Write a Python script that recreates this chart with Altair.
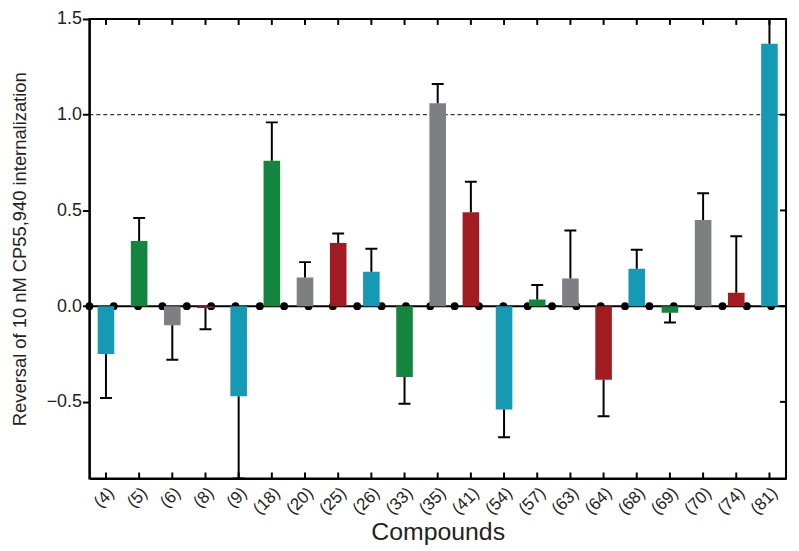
import altair as alt
import pandas as pd

compounds = ["(4)", "(5)", "(6)", "(8)", "(9)", "(18)", "(20)", "(25)", "(26)", "(33)", "(35)",
             "(41)", "(54)", "(57)", "(63)", "(64)", "(68)", "(69)", "(70)", "(74)", "(81)"]
values = [-0.25, 0.34, -0.10, -0.01, -0.47, 0.76, 0.15, 0.33, 0.18, -0.37, 1.06,
          0.49, -0.54, 0.035, 0.145, -0.385, 0.195, -0.035, 0.45, 0.07, 1.37]
errors = [0.23, 0.12, 0.18, 0.11, 0.43, 0.20, 0.08, 0.05, 0.12, 0.14, 0.10,
          0.16, 0.145, 0.075, 0.25, 0.19, 0.10, 0.05, 0.14, 0.295, 0.15]
zero_points = list(range(29))
y_ticks = [-0.5, 0.0, 0.5, 1.0, 1.5]
reference_level = [1.0]

palette = ["#1699B4", "#14853F", "#7E7F83", "#A11C20"]
bar_colors = [palette[i % 4] for i in range(len(compounds))]

df = pd.DataFrame({"compound": compounds, "value": values, "err": errors})
df["end"] = [v + (e if v >= 0 else -e) for v, e in zip(values, errors)]
dots_df = pd.DataFrame({"i": zero_points, "y": [0.0] * len(zero_points)})
yt_df = pd.DataFrame({"y": y_ticks})
ref_df = pd.DataFrame({"y": reference_level})

W, H = 702, 463
FONT = "Liberation Sans"

xscale = alt.Scale(domain=compounds, paddingInner=0.5, paddingOuter=0.25)
yscale = alt.Scale(domain=[-0.9, 1.5], nice=False, zero=False)

x_enc = alt.X("compound:N", scale=xscale, sort=compounds,
              axis=alt.Axis(title="Compounds", labelAngle=-45, ticks=False,
                            labelFontSize=17, titleFontSize=25, labelPadding=6,
                            titlePadding=3, domainColor="black", domainWidth=2,
                            labelColor="#222", titleColor="#222",
                            titleFontWeight="normal"))
y_enc = alt.Y("value:Q", scale=yscale,
              axis=alt.Axis(title="Reversal of 10 nM CP55,940 internalization",
                            values=y_ticks, format=".1f", grid=False,
                            tickSize=7, tickWidth=2, tickColor="black",
                            domainColor="black", domainWidth=2,
                            labelFontSize=18, labelPadding=1, titleFontSize=18.5,
                            titlePadding=17, labelColor="#222", titleColor="#222",
                            titleFontWeight="normal"))

base = alt.Chart(df)

ref_line = alt.Chart(ref_df).mark_rule(color="black", strokeWidth=1, strokeDash=[4, 3]).encode(
    y=alt.Y("y:Q", scale=yscale), x=alt.value(0), x2=alt.value(W)
)

zero_line = alt.Chart(dots_df).mark_rule(color="black", strokeWidth=2).encode(
    y=alt.Y("mean(y):Q", scale=yscale), x=alt.value(0), x2=alt.value(W)
)

dots = alt.Chart(dots_df).mark_circle(color="black", opacity=1, size=62).encode(
    x=alt.X("i:Q", scale=alt.Scale(domain=[0, 28.61], nice=False, zero=True), axis=None),
    y=alt.Y("y:Q", scale=yscale),
)

bars = base.mark_bar(clip=True).encode(
    x=x_enc, y=y_enc, y2=alt.datum(0),
    color=alt.Color("compound:N", scale=alt.Scale(domain=compounds, range=bar_colors), legend=None),
)

err_rules = base.mark_rule(color="black", strokeWidth=2, clip=True).encode(
    x=alt.X("compound:N", scale=xscale, sort=compounds),
    y=alt.Y("value:Q", scale=yscale), y2="end:Q",
)
caps = base.mark_tick(color="black", size=12, thickness=2, clip=True, opacity=1).encode(
    x=alt.X("compound:N", scale=xscale, sort=compounds),
    y=alt.Y("end:Q", scale=yscale),
)

bottom_ticks = base.mark_rule(color="black", strokeWidth=2).encode(
    x=alt.X("compound:N", scale=xscale, sort=compounds),
    y=alt.value(H), y2=alt.value(H - 6),
)
top_ticks = base.mark_rule(color="black", strokeWidth=2).encode(
    x=alt.X("compound:N", scale=xscale, sort=compounds),
    y=alt.value(0), y2=alt.value(6),
)
right_ticks = alt.Chart(yt_df).mark_rule(color="black", strokeWidth=2).encode(
    y=alt.Y("y:Q", scale=yscale), x=alt.value(W - 6), x2=alt.value(W),
)

main = alt.layer(bars, err_rules, caps, bottom_ticks, top_ticks, right_ticks)

chart = alt.layer(
    ref_line, zero_line, dots, main
).resolve_scale(x="independent").properties(
    width=W, height=H,
    autosize=alt.AutoSizeParams(type="none"),
    padding={"left": 82, "top": 9, "right": 5, "bottom": 68},
).configure_view(
    stroke="black", strokeWidth=2
).configure_axis(
    labelFont=FONT, titleFont=FONT
)

chart.save("out.html", embed_options={"renderer": "svg", "actions": False})
